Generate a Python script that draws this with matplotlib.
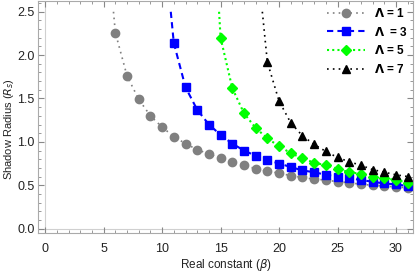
import matplotlib.pyplot as plt
from matplotlib.ticker import MultipleLocator

plt.rcParams['font.family'] = ['Liberation Sans', 'DejaVu Sans']

# Data (markers at integer beta, line starts where R = 2.5)
beta1 = [5.84] + list(range(6, 32))
r1 = [2.5, 2.26, 1.76, 1.49, 1.30, 1.17, 1.06, 0.98, 0.91, 0.86, 0.81, 0.77, 0.73,
      0.69, 0.66, 0.64, 0.61, 0.59, 0.57, 0.56, 0.54, 0.53, 0.51, 0.50, 0.49, 0.48, 0.47]
beta3 = [10.74] + list(range(11, 32))
r3 = [2.5, 2.14, 1.63, 1.37, 1.20, 1.08, 0.98, 0.90, 0.84, 0.79, 0.75, 0.71, 0.67,
      0.65, 0.62, 0.60, 0.58, 0.56, 0.54, 0.52, 0.51, 0.49]
beta5 = [14.87] + list(range(15, 32))
r5 = [2.5, 2.20, 1.62, 1.33, 1.16, 1.04, 0.95, 0.87, 0.81, 0.76, 0.73, 0.69, 0.65,
      0.63, 0.60, 0.58, 0.56, 0.53]
beta7 = [18.57] + list(range(19, 32))
r7 = [2.5, 1.92, 1.47, 1.22, 1.07, 0.97, 0.89, 0.82, 0.77, 0.73, 0.68, 0.65, 0.62, 0.60]

fig = plt.figure(figsize=(4.15, 2.74), dpi=100)
ax = fig.add_axes([0.092, 0.15, 0.903, 0.845])

ax.axvline(0, color='#d0d0d0', lw=0.8, zorder=0)
ax.axhline(0, color='#d0d0d0', lw=0.8, zorder=0)

ax.plot(beta1, r1, color='gray', ls=(0, (1, 2.5)), lw=1.2, marker='o', ms=6,
        markevery=range(1, len(beta1)), label=r'$\mathbf{\Lambda}$ = 1')
ax.plot(beta3, r3, color='blue', ls=(0, (3, 2)), lw=1.5, marker='s', ms=6,
        markevery=range(1, len(beta3)), label=r'$\mathbf{\Lambda}$  = 3')
ax.plot(beta5, r5, color='#00ff00', ls=(0, (1, 1.5)), lw=1.5, marker='D', ms=5,
        markevery=range(1, len(beta5)), label=r'$\mathbf{\Lambda}$ = 5')
ax.plot(beta7, r7, color='black', ls=(0, (1, 2.5)), lw=1.2, marker='^', ms=6,
        markevery=range(1, len(beta7)), label=r'$\mathbf{\Lambda}$ = 7')

ax.set_xlim(-0.6, 31.45)
ax.set_ylim(-0.05, 2.62)
ax.xaxis.set_major_locator(MultipleLocator(5))
ax.xaxis.set_minor_locator(MultipleLocator(1))
ax.yaxis.set_major_locator(MultipleLocator(0.5))
ax.yaxis.set_minor_locator(MultipleLocator(0.1))
ax.yaxis.set_major_formatter(lambda v, p: f'{v:.1f}')
ax.tick_params(which='both', direction='in', color='#888888', labelsize=9,
               top=True, right=True, labelcolor='#222222')
ax.tick_params(axis='x', pad=7)
ax.tick_params(axis='y', pad=2.5)
ax.tick_params(which='major', length=4)
ax.tick_params(which='minor', length=2)
for s in ax.spines.values():
    s.set_color('#aaaaaa')

ax.set_xlabel(r'Real constant ($\beta$)', fontsize=8.5, color='#222222')
ax.set_ylabel(r'Shadow Radius ($R_s$)', fontsize=8, color='#222222')
ax.yaxis.set_label_coords(-0.06, 0.45)
ax.xaxis.set_label_coords(0.5, -0.105)

leg = ax.legend(loc='upper right', frameon=False, fontsize=8.5, handlelength=3.3,
                handletextpad=0.7, labelspacing=0.5, borderaxespad=0.15,
                borderpad=0.3)
for t in leg.get_texts():
    t.set_fontweight('bold')

fig.savefig('out.png', dpi=100)
